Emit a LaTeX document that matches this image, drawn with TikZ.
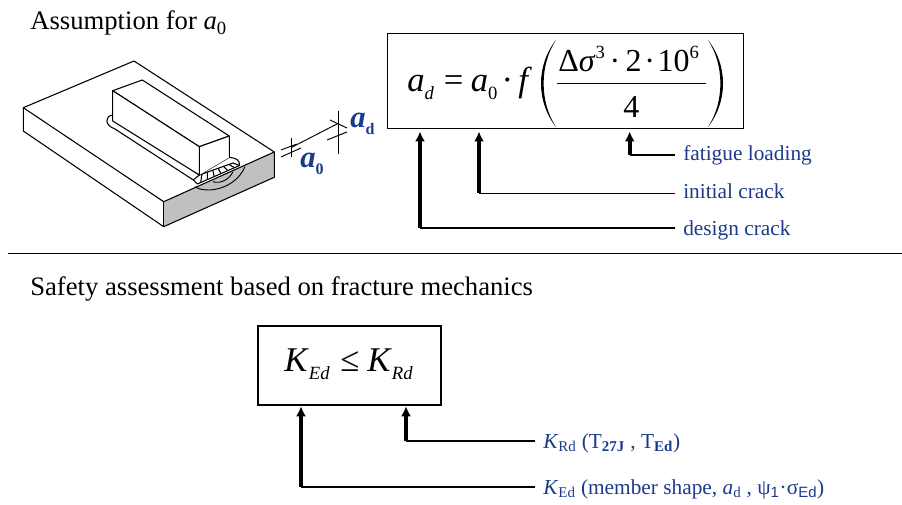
\documentclass[tikz,border=0pt]{standalone}
\usepackage{fontspec}
\setmainfont{Liberation Serif}
\newfontfamily\symbsans{Liberation Sans}
\usetikzlibrary{arrows.meta, calc, positioning}
\definecolor{label_colour}{RGB}{28, 58, 140}
\definecolor{cut_colour}{RGB}{192, 192, 192}
\newcommand{\lowidx}[1]{\raisebox{-0.22em}{\fontsize{14}{16}\selectfont #1}}
\newcommand{\upidx}[1]{\raisebox{0.42em}{\fontsize{14}{16}\selectfont #1}}

\begin{document}
\begin{tikzpicture}[
    x=0.75pt, y=-0.75pt,
    >={Latex[length=7.5pt,width=7.5pt]},
    every node/.style={inner sep=0pt},
    heading/.style={anchor=base west, font=\fontsize{20}{24}\selectfont},
    formulabox/.style={draw, anchor=north west},
    formula/.style={anchor=base west, font=\fontsize{26}{30}\selectfont},
    fracpart/.style={anchor=base west, font=\fontsize{24}{28}\selectfont},
    lbl/.style={anchor=base west, text=label_colour, inner xsep=6pt, font=\fontsize{16}{20}\selectfont},
    dimlbl/.style={anchor=base west, text=label_colour, font=\fontsize{23}{26}\selectfont\bfseries\itshape},
    arr/.style={->, line width=2.8pt, shorten >=2pt},
    lead/.style={line width=1.1pt},
    part/.style={line width=0.8pt, line join=round},
    thinpart/.style={line width=0.7pt},
]
\useasboundingbox (0,0) rectangle (902,505);

% headings
\node[heading] (head1) at (30,30) {Assumption for \textit{a}\textsubscript{0}};
\node[heading] (head2) at (30,296) {Safety assessment based on fracture mechanics};
\coordinate (sepl) at (8,253);
\coordinate (sepr) at (902,253);
\draw[line width=0.7pt] (sepl) -- (sepr);

% plate
\fill[cut_colour] (163.7,201.7) -- (274.3,152) -- (274.3,177.3) -- (163.7,226.7) -- cycle;
\draw[part] (23.3,107.7) -- (134,61) -- (274.3,152) -- (163.7,201.7) -- cycle;
\draw[part] (23.3,107.7) -- (23.3,131) -- (163.7,226.7) -- (274.3,177.3) -- (274.3,152);
\draw[part] (163.7,201.7) -- (163.7,226.7);

% crack fronts
\draw[thinpart] (195,186.7) .. controls (205,194) and (235,190) .. (245,166.7);
\draw[thinpart] (213,181.7) .. controls (220,184) and (229,180) .. (233,171.7);

% weld
\draw[part, fill=white] (112.7,115) .. controls (105,116) and (104,125) .. (115,129) -- (193.3,180)
    -- (197.3,184) -- (239.5,165.5) .. controls (240,160) and (236,158) .. (229.3,157.3) -- (199.3,175) -- cycle;
\draw[part] (193.3,180) -- (199.3,175) -- (233,163) -- (239.5,165.5);
\foreach \t in {0.08,0.24,...,0.95}{
  \draw[part] ($(199.3,175)!\t!(233,163)$) -- ($(197.3,184)!\t!(239.5,165.5)$);
}

% block
\draw[part, fill=white] (112.7,90.7) -- (142.3,80) -- (229.3,136) -- (199.3,146.7) -- cycle;
\draw[part, fill=white] (112.7,90.7) -- (199.3,146.7) -- (199.3,175) -- (112.7,121) -- cycle;
\fill[white] (199.3,146.7) -- (229.3,136) -- (229.3,157.3) -- (199.3,175) -- cycle;
\draw[part] (199.3,146.7) -- (229.3,136) -- (229.3,157.3);
\draw[part] (199.3,146.7) -- (199.3,175);

% crack dimensions
\coordinate (dima) at (291.7,147.3);
\coordinate (dimb) at (338.3,123.3);
\draw[thinpart] (dima) -- (dimb);
\draw[thinpart] (291.7,138.3) -- (291.7,157.3);
\draw[thinpart] (338.3,111) -- (338.3,154);
\draw[thinpart] (281,150) -- (297,144);
\draw[thinpart] (281,157) -- (301,148);
\draw[thinpart] (330,120) -- (347,128);
\draw[thinpart] (327,140) -- (347,132);
\node[dimlbl] (azero) at (300,168) {a\lowidx{\upshape\fontsize{12}{14}\selectfont 0}};
\node[dimlbl] (adesign) at (350,128) {a\lowidx{\upshape\fontsize{12}{14}\selectfont d}};

% crack size formula
\node[formulabox, line width=0.8pt, minimum width=355.4*0.75pt, minimum height=95*0.75pt] (adbox) at (387.3,32.7) {};
\node[formula] (adform) at (407,92)
  {\textit{a}\lowidx{\textit{d}}\hspace{7.5pt}=\hspace{5.5pt}\textit{a}\lowidx{0}\hspace{3pt}·\hspace{4pt}\textit{f}};
\node[fracpart] (adnum) at (558,71.7)
  {Δ\textit{σ}\upidx{3}\hspace{3.5pt}·\hspace{4pt}2\hspace{2pt}·\hspace{2pt}10\upidx{6}};
\node[fracpart] (adden) at (623,117.5) {4};
\draw[line width=0.8pt] (556.7,83.3) -- (706,83.3);
\fill (556,40) .. controls (536,65) and (536,102) .. (556,127) .. controls (539.5,102) and (539.5,65) .. (556,40) -- cycle;
\fill (708,40) .. controls (728,65) and (728,102) .. (708,127) .. controls (724.5,102) and (724.5,65) .. (708,40) -- cycle;
\coordinate (fatiguept) at (629.7,155);
\coordinate (initialpt) at (479,193.3);
\coordinate (designpt)  at (420,228);
\node[lbl] (fatigue) at (675,161) {fatigue loading};
\node[lbl] (initial) at (675,199) {initial crack};
\node[lbl] (design)  at (675,236) {design crack};
\draw[arr] (fatiguept) -- (fatiguept |- adbox.south);
\draw[arr] (initialpt) -- (initialpt |- adbox.south);
\draw[arr] (designpt) -- (designpt |- adbox.south);
\draw[lead] (fatigue.west |- fatiguept) -- (fatiguept);
\draw[lead] (initial.west |- initialpt) -- (initialpt);
\draw[lead] (design.west |- designpt) -- (designpt);

% safety formula
\node[formulabox, line width=1.2pt, minimum width=183*0.75pt, minimum height=79*0.75pt] (kbox) at (257,325) {};
\node[formula] (kform) at (284,372)
  {\textit{K}\lowidx{\textit{Ed}}\hspace{8pt}≤\hspace{6pt}\textit{K}\lowidx{\textit{Rd}}};
\coordinate (krpt) at (406,441);
\coordinate (kept) at (301,487);
\node[lbl] (krd) at (535,448) {\textit{K}\textsubscript{Rd} (T\textsubscript{\textbf{27J}} ,~T\textsubscript{\textbf{Ed}})};
\node[lbl] (ked) at (535,494) {\textit{K}\textsubscript{Ed} (member shape, \textit{a}\textsubscript{d} , ψ\textsubscript{\symbsans 1}·σ\textsubscript{\symbsans Ed})};
\draw[arr, shorten >=0.5pt] (krpt) -- (krpt |- kbox.south);
\draw[arr, shorten >=0.5pt] (kept) -- (kept |- kbox.south);
\draw[lead] (krd.west |- krpt) -- (krpt);
\draw[lead] (ked.west |- kept) -- (kept);
\end{tikzpicture}
\end{document}
